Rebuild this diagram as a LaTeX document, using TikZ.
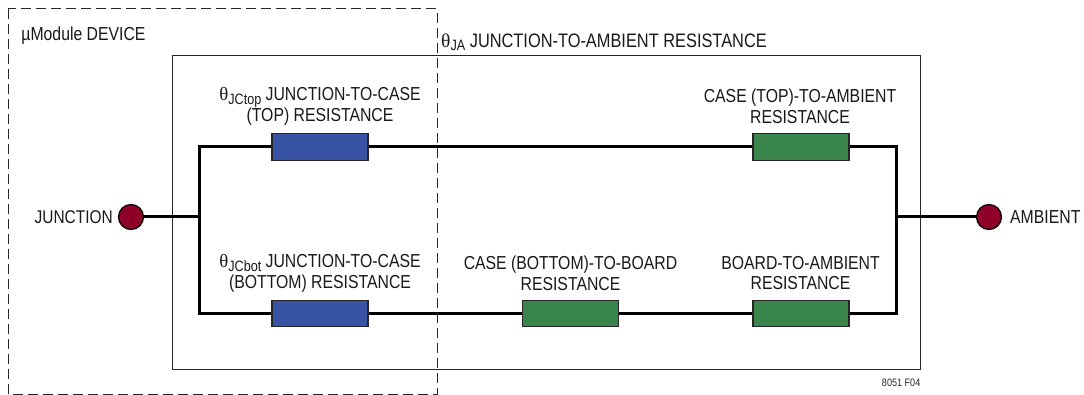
\documentclass[tikz,border=0pt]{standalone}
\usepackage{fontspec}
\setmainfont[FakeStretch=0.84]{Liberation Sans}
\definecolor{blue1}{HTML}{3953A4}
\definecolor{green1}{HTML}{39854C}
\definecolor{red1}{HTML}{8E0028}
\tikzset{
  res/.style={draw=black!85,line width=1.2pt,minimum width=96pt,minimum height=26.5pt,inner sep=0pt},
  blueres/.style={res,fill=blue1},
  greenres/.style={res,fill=green1},
  term/.style={circle,draw=black,line width=1.2pt,fill=red1,minimum size=25pt,inner sep=0pt},
  wire/.style={line width=3pt,black},
  stub/.style={line width=3pt,black},
  lbl/.style={font=\fontsize{18.8}{20.9}\selectfont,align=center,inner sep=0pt,text=black!90},
}
\newcommand{\thetasub}[1]{{\fontspec{Liberation Serif}θ}\raisebox{-3.5pt}{\fontsize{15}{15}\selectfont #1}}
\begin{document}
\begin{tikzpicture}[x=1pt,y=-1pt]
\useasboundingbox (0,0) rectangle (1084,395);
\fill[white] (0,0) rectangle (1084,395);
\coordinate (boxA) at (172,56);
\coordinate (boxB) at (920,369);
\coordinate (dashA) at (8,9);
\coordinate (dashB) at (437,394);
\draw[line width=1pt,black!85] (boxA) rectangle (boxB);
\node[blueres] (r1) at (320,147) {};
\node[greenres] (r2) at (801,147) {};
\node[blueres] (r3) at (320,313.5) {};
\node[greenres] (r4) at (570.5,313.5) {};
\node[greenres] (r5) at (801,313.5) {};
\node[term] (j) at (131,217) {};
\node[term] (a) at (989,217) {};
\coordinate (tl) at (199,147);
\coordinate (bl) at (199,313.5);
\coordinate (tr) at (896,147);
\coordinate (br) at (896,313.5);
\coordinate (ml) at (199,217);
\coordinate (mr) at (896,217);
\draw[wire,line join=miter] (r1) -- (tl) -- (bl) -- (r3);
\draw[wire,line join=miter] (r2) -- (tr) -- (br) -- (r5);
\draw[wire] (r1) -- (r2);
\draw[wire] (r3) -- (r4);
\draw[wire] (r4) -- (r5);
\draw[stub] (j) -- (ml);
\draw[stub] (a) -- (mr);
\draw[dash pattern=on 10pt off 5pt,line width=1pt,black!85] (dashA) rectangle (dashB);
\node[lbl] (tdev) at (83.5,36) {µModule DEVICE};
\node[lbl,font=\fontsize{19.5}{21}\selectfont] (tja) at (604,42.5) {\thetasub{JA} JUNCTION-TO-AMBIENT RESISTANCE};
\node[lbl] (t1) at (320,106.5) {\thetasub{JCtop} JUNCTION-TO-CASE\\(TOP) RESISTANCE};
\node[lbl] (t2) at (800,106) {CASE (TOP)-TO-AMBIENT\\RESISTANCE};
\node[lbl] (t3) at (320,273.5) {\thetasub{JCbot} JUNCTION-TO-CASE\\(BOTTOM) RESISTANCE};
\node[lbl] (t4) at (570.5,273) {CASE (BOTTOM)-TO-BOARD\\RESISTANCE};
\node[lbl] (t5) at (800.5,273) {BOARD-TO-AMBIENT\\RESISTANCE};
\node[lbl,anchor=east,font=\fontsize{18.4}{20}\selectfont] (tj) at (113,217.5) {JUNCTION};
\node[lbl,anchor=west] (ta) at (1010,217.5) {AMBIENT};
\node[font=\fontsize{10.8}{10.8}\selectfont,anchor=east,inner sep=0pt,text=black!85] (fig) at (920.5,383) {8051 F04};
\end{tikzpicture}
\end{document}
